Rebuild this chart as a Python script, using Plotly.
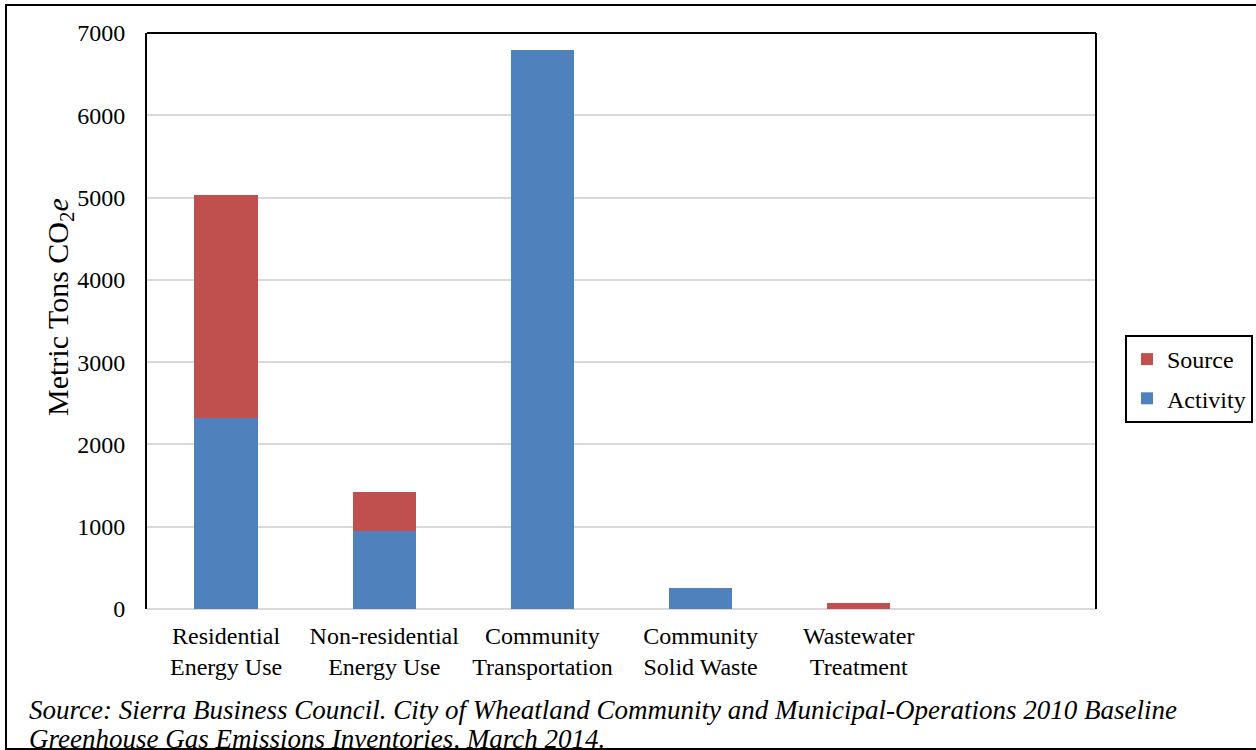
import plotly.graph_objects as go

categories = ["Residential<br>Energy Use", "Non-residential<br>Energy Use", "Community<br>Transportation",
              "Community<br>Solid Waste", "Wastewater<br>Treatment", ""]
activity = [2320, 950, 6790, 255, 0, 0]
source = [2710, 475, 0, 0, 70, 0]
y_ticks = [0, 1000, 2000, 3000, 4000, 5000, 6000, 7000]
note_line1 = "Source: Sierra Business Council. City of Wheatland Community and Municipal-Operations 2010 Baseline"
note_line2 = "Greenhouse Gas Emissions Inventories, March 2014."

FONT = "Liberation Serif, Times New Roman, serif"
BLUE = "#4F81BD"
RED = "#C0504D"

W, H = 1256, 750
L, R, T, B = 147, 1096, 33, 609
pw, ph = R - L, B - T

def px(x):
    return (x - L) / pw

def py(y):
    return (B - y) / ph

xpos = list(range(len(categories)))

fig = go.Figure()
fig.add_trace(go.Bar(x=xpos, y=activity, name="Activity", marker=dict(color=BLUE, line=dict(width=0)),
                     width=0.4, legendgroup="a", legendrank=2))
fig.add_trace(go.Bar(x=xpos, y=source, name="Source", marker=dict(color=RED, line=dict(width=0)),
                     width=0.4, legendgroup="s", legendrank=1))

fig.update_layout(
    width=W, height=H,
    margin=dict(l=L, r=W - R, t=T, b=H - B, autoexpand=False),
    barmode="stack",
    plot_bgcolor="white", paper_bgcolor="white",
    font=dict(family=FONT, size=24, color="black"),
    showlegend=True,
    legend=dict(x=px(1125), y=py(335), xanchor="left", yanchor="top",
                bordercolor="black", borderwidth=2, traceorder="grouped",
                tracegroupgap=5, font=dict(size=24, family=FONT), itemwidth=30),
    xaxis=dict(range=[-0.5, 5.5], tickmode="array", tickvals=xpos[:5], ticktext=categories[:5],
               showgrid=False, showline=False, zeroline=False, ticks="", ticklabelstandoff=10,
               tickfont=dict(size=24, family=FONT)),
    yaxis=dict(range=[0, 7000], tickmode="array", tickvals=y_ticks, ticktext=[str(v) for v in y_ticks],
               showgrid=True, gridcolor="#D9D9D9", gridwidth=2, zeroline=True, zerolinecolor="#D9D9D9",
               zerolinewidth=2, showline=True, linecolor="black", linewidth=2, ticks="",
               ticklabelstandoff=15, tickfont=dict(size=24, family=FONT)),
)

# plot area top & right border
fig.add_shape(type="line", xref="paper", yref="paper", x0=0, x1=1, y0=1, y1=1,
              line=dict(color="black", width=2))
fig.add_shape(type="line", xref="paper", yref="paper", x0=1, x1=1, y0=0, y1=1,
              line=dict(color="black", width=2))
# outer frame
fig.add_shape(type="rect", xref="paper", yref="paper", x0=px(6), x1=px(1262), y0=py(749), y1=py(5),
              line=dict(color="black", width=2), layer="below")

# y axis title
fig.add_annotation(text="Metric Tons CO<sub>2</sub><i>e</i>", xref="paper", yref="paper",
                   x=px(60), y=py(307), textangle=-90, showarrow=False,
                   font=dict(size=30, family=FONT), xanchor="center", yanchor="middle")

# source note
fig.add_annotation(text="<i>" + note_line1 + "</i>", xref="paper", yref="paper", x=px(27), y=py(710),
                   xanchor="left", yanchor="middle", showarrow=False, font=dict(size=27, family=FONT))
fig.add_annotation(text="<i>" + note_line2 + "</i>",
                   xref="paper", yref="paper", x=px(27), y=py(739), xanchor="left", yanchor="middle",
                   showarrow=False, font=dict(size=27, family=FONT))

fig.write_html("out.html", post_script="document.body.style.margin='0';",
               config={"displayModeBar": False})
